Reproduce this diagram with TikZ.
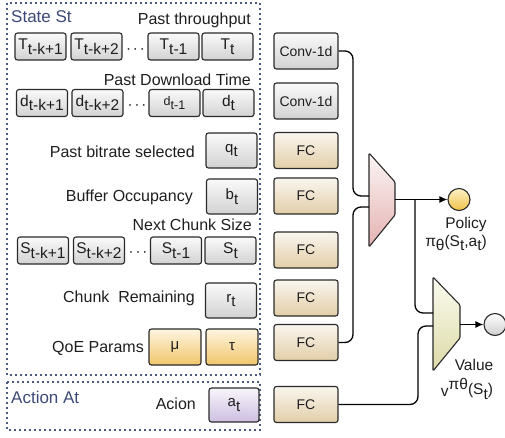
\documentclass[tikz,border=0pt]{standalone}
\usepackage{fontspec}
\setmainfont{Liberation Sans}
\usetikzlibrary{arrows.meta}
\definecolor{bd}{HTML}{2A2A2A}
\definecolor{txt}{HTML}{1E1E1E}
\definecolor{ttlc}{HTML}{3C4A78}
\definecolor{dotc}{HTML}{4A5A80}
\definecolor{g1}{HTML}{FAFAFA}
\definecolor{g2}{HTML}{D2D2D2}
\definecolor{f1}{HTML}{FAF6EE}
\definecolor{f2}{HTML}{E2CEA8}
\definecolor{q1}{HTML}{FDF5E0}
\definecolor{q2}{HTML}{F2C66A}
\definecolor{a1}{HTML}{F8F5FB}
\definecolor{a2}{HTML}{CDBFE0}
\definecolor{p1}{HTML}{FCF5F5}
\definecolor{p2}{HTML}{E4B2B2}
\definecolor{v1}{HTML}{FBFBF0}
\definecolor{v2}{HTML}{DCDAA6}
\definecolor{y1}{HTML}{FDF1C4}
\definecolor{y2}{HTML}{EFC24A}
\definecolor{c1}{HTML}{FFFFFF}
\definecolor{c2}{HTML}{CFCFCF}
\newcommand\lo[2][4.5pt]{\raisebox{-#1}{#2}}
\newcommand\hi[2][5pt]{\raisebox{#1}{#2}}
\newcommand\mydots{·\hspace{2pt}·\hspace{2pt}·}
\begin{document}
\begin{tikzpicture}[x=1pt,y=-1pt,
  box/.style={draw=bd, line width=1.1pt, rounded corners=2.5pt, inner sep=0pt,
    font=\fontsize{14}{14}\selectfont, text=txt},
  rowbox/.style={box, top color=g1, bottom color=g2, minimum width=51pt, minimum height=27pt,
    font=\fontsize{15.5}{15.5}\selectfont},
  sbox/.style={box, top color=g1, bottom color=g2, minimum width=51pt, minimum height=35pt,
    font=\fontsize{15}{15}\selectfont},
  qbox/.style={box, top color=q1, bottom color=q2, minimum width=52pt, minimum height=36pt,
    font=\fontsize{15}{15}\selectfont},
  abox/.style={box, top color=a1, bottom color=a2, minimum width=50pt, minimum height=34pt,
    font=\fontsize{15}{15}\selectfont},
  netbox/.style={box, minimum width=64pt, minimum height=36pt},
  conv/.style={netbox, top color=g1, bottom color=g2},
  fc/.style={netbox, top color=f1, bottom color=f2},
  lbl/.style={inner sep=0pt, text=txt, font=\fontsize{16}{16}\selectfont},
  ttl/.style={inner sep=0pt, text=ttlc, font=\fontsize{17}{17}\selectfont},
  dots/.style={inner sep=0pt, text=txt, font=\fontsize{15}{15}\selectfont},
  dotbd/.style={draw=dotc, line width=1.5pt, dash pattern=on 1.8pt off 3.2pt},
  trap/.style={draw=bd, line width=1.1pt, rounded corners=1.2pt},
  conn/.style={draw=black, line width=1.3pt, rounded corners=8pt},
  arr/.style={conn, -{Latex[length=8pt,width=7pt]}},
  outc/.style={circle, draw=bd, line width=1.1pt, minimum size=22pt, inner sep=0pt}
]
\useasboundingbox (0,0) rectangle (505,437);
% group frames
\draw[dotbd] (7,3) rectangle (260,375);
\draw[dotbd] (7,382) rectangle (260,430);
\node[ttl, anchor=west] (stt) at (11,17) {State St};
\node[ttl, anchor=west] (att) at (11,397) {Action At};
% past throughput
\node[lbl, anchor=east] (lthr) at (251,20) {Past throughput};
\node[rowbox] (T1) at (40.5,46.5) {T\lo{t-k+1}};
\node[rowbox] (T2) at (96.5,46.5) {T\lo{t-k+2}};
\node[dots] (Td) at (135.5,51) {\mydots};
\node[rowbox] (T3) at (173.5,46.5) {T\lo{t-1}};
\node[rowbox] (T4) at (227.5,46.5) {T\lo{t}};
% past download time
\node[lbl, anchor=east] (ldl) at (251,80) {Past Download Time};
\node[rowbox] (d1) at (42,103) {d\lo{t-k+1}};
\node[rowbox] (d2) at (97.5,103) {d\lo{t-k+2}};
\node[dots] (dd) at (137,107) {\mydots};
\node[rowbox, font=\fontsize{12.5}{12.5}\selectfont] (d3) at (174.5,103) {d\lo{t-1}};
\node[rowbox] (d4) at (228.5,103) {d\lo{t}};
% bitrate
\node[lbl, anchor=east] (lq) at (195,152) {Past bitrate selected};
\node[sbox] (q) at (231.5,150.5) {q\lo{t}};
% buffer
\node[lbl, anchor=east] (lb) at (193,197) {Buffer Occupancy};
\node[sbox] (b) at (232,196.5) {b\lo{t}};
% next chunk size
\node[lbl, anchor=east] (lS) at (252,225) {Next Chunk Size};
\node[rowbox] (S1) at (43,250.5) {S\lo{t-k+1}};
\node[rowbox] (S2) at (99,250.5) {S\lo{t-k+2}};
\node[dots] (Sd) at (138,254) {\mydots};
\node[rowbox] (S3) at (176,250.5) {S\lo{t-1}};
\node[rowbox] (S4) at (230.5,250.5) {S\lo{t}};
% chunk remaining
\node[lbl, anchor=east] (lr) at (195,298) {Chunk~~Remaining};
\node[sbox] (r) at (231,300.5) {r\lo{t}};
% QoE
\node[lbl, anchor=east] (lqoe) at (144,348) {QoE Params};
\node[qbox] (mu) at (175,347) {μ};
\node[qbox] (tau) at (232,347) {τ};
% action
\node[lbl, anchor=east] (lact) at (196,404) {Acion};
\node[abox] (a) at (234,405) {a\lo{t}};
% network boxes
\node[conv] (conv1) at (306,51) {Conv-1d};
\node[conv] (conv2) at (306,101) {Conv-1d};
\node[fc] (fc1) at (306,150.5) {FC};
\node[fc] (fc2) at (306,196) {FC};
\node[fc] (fc3) at (306,250) {FC};
\node[fc] (fc4) at (306,298) {FC};
\node[fc] (fc5) at (306,342.5) {FC};
\node[fc] (fc6) at (306,404.5) {FC};
% policy trapezoid
\path[trap, top color=p1, bottom color=p2] (369,153) -- (395,182) -- (395,215) -- (369,247) -- cycle;
\coordinate (pin1) at (369,196);
\coordinate (pin2) at (369,207);
\coordinate (pout) at (395,199.5);
\coordinate (bus1) at (353,0);
% value trapezoid
\path[trap, top color=v1, bottom color=v2] (433,277) -- (460,305) -- (460,338) -- (433,371) -- cycle;
\coordinate (vin1) at (433,313);
\coordinate (vin2) at (433,326);
\coordinate (vout) at (460,324.5);
\coordinate (bus2) at (418,0);
\coordinate (br) at (415,199.5);
% outputs
\node[outc, top color=y1, bottom color=y2] (pol) at (459,199.5) {};
\node[outc, top color=c1, bottom color=c2] (val) at (495,324.5) {};
\node[lbl, font=\fontsize{15.5}{15.5}\selectfont] (lpol) at (466,224) {Policy};
\node[lbl, font=\fontsize{15.5}{15.5}\selectfont] (lpi) at (456,243) {π\lo{θ}(S\lo{t},a\lo{t})};
\node[lbl, font=\fontsize{15.5}{15.5}\selectfont] (lval) at (474,365) {Value};
\node[lbl, font=\fontsize{15.5}{15.5}\selectfont] (lv) at (467,389) {\lo[2pt]{v}\hi[5pt]{πθ}(S\lo{t})};
% connectors
\draw[conn] (conv1.east) -| (bus1 |- pin1) -- (pin1);
\draw[conn] (fc5.east) -| (bus1 |- pin2) -- (pin2);
\draw[arr] (pout) -- (pol.west);
\draw[conn] (br) |- (vin1);
\draw[conn] (fc6.east) -| (bus2 |- vin2) -- (vin2);
\draw[arr] (vout) -- (val.west);
\end{tikzpicture}
\end{document}
